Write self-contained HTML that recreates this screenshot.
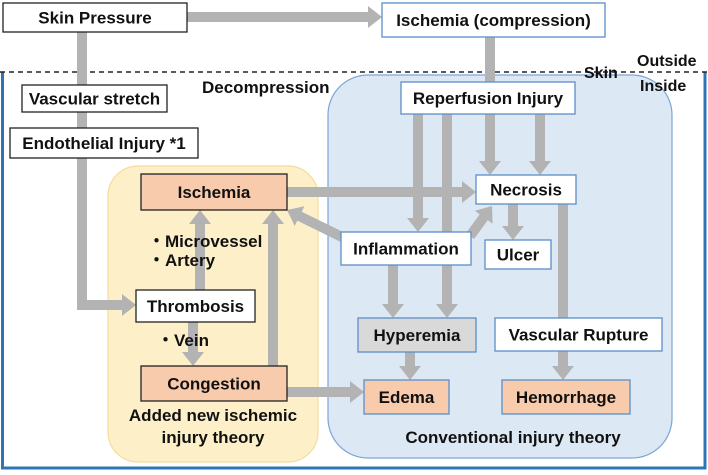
<!DOCTYPE html>
<html><head><meta charset="utf-8"><style>
body{margin:0;width:708px;height:475px;background:#fff;overflow:hidden;font-family:"Liberation Sans",Arial,sans-serif;}
svg{position:absolute;left:0;top:0}
.t{font-family:"Liberation Sans",Arial,sans-serif;font-weight:bold;font-size:17px;fill:#111}
</style></head><body>
<svg id="s" width="708" height="475" xmlns="http://www.w3.org/2000/svg">
<path d="M2.5 72 V468 H705 V72" fill="none" stroke="#2e75b6" stroke-width="3"/>
<line x1="0" y1="72" x2="708" y2="72" stroke="#222" stroke-width="1.5" stroke-dasharray="5,4"/>
<rect x="328" y="75" width="344" height="383" rx="40" fill="#dde8f5" stroke="#7ba7d6" stroke-width="1.2"/>
<rect x="108" y="166" width="210" height="296" rx="30" fill="#fdf0c9" stroke="#f6dc9c" stroke-width="1.2"/>
<g id="arrows" fill="#b3b3b3"></g>
<g id="boxes"></g>
<text class="t" x="202" y="93">Decompression</text>
<text class="t" x="584" y="78" style="font-size:16px">Skin</text>
<text class="t" x="637" y="66" style="font-size:16px">Outside</text>
<text class="t" x="640" y="91" style="font-size:16px">Inside</text>
<text class="t" x="148" y="247">・Microvessel</text>
<text class="t" x="148" y="266">・Artery</text>
<text class="t" x="157" y="346">・Vein</text>
<text class="t" x="213" y="421" text-anchor="middle">Added new ischemic</text>
<text class="t" x="213" y="443" text-anchor="middle">injury theory</text>
<text class="t" x="513" y="443" text-anchor="middle">Conventional injury theory</text>
</svg>
<script>
var A=document.getElementById('arrows'),B=document.getElementById('boxes'),NS='http://www.w3.org/2000/svg';
function el(p,t,a){var e=document.createElementNS(NS,t);for(var k in a)e.setAttribute(k,a[k]);p.appendChild(e);return e;}
function arr(x1,y1,x2,y2,head){var w=5,hw=11,hl=14;var dx=x2-x1,dy=y2-y1,L=Math.hypot(dx,dy),ux=dx/L,uy=dy/L,px=-uy,py=ux;
var bl=head?L-hl:L;var bx=x1+ux*bl,by=y1+uy*bl;var pts=[[x1+px*w,y1+py*w],[bx+px*w,by+py*w]];
if(head){pts.push([bx+px*hw,by+py*hw],[x2,y2],[bx-px*hw,by-py*hw]);}
pts.push([bx-px*w,by-py*w],[x1-px*w,y1-py*w]);el(A,'polygon',{points:pts.map(function(p){return p.join(',')}).join(' ')});}
arr(187,17,382,17,1);
arr(490,37,490,84,0);
arr(82,32,82,310,0);
arr(77,305,136,305,1);
arr(418,114,418,232,1);
arr(447,114,447,318,1);
arr(490,114,490,175,1);
arr(540,114,540,175,1);
arr(287,192,476,192,1);
arr(348,240,287,210,1);
arr(470,236,492,206,1);
arr(513,204,513,240,1);
arr(563,204,563,380,1);
arr(393,265,393,318,1);
arr(410,352,410,380,1);
arr(200,290,200,210,1);
arr(193,322,193,366,1);
arr(273,366,273,210,1);
arr(287,392,364,392,1);
function box(x,y,w,h,txt,fill,stroke){el(B,'rect',{x:x,y:y,width:w,height:h,fill:fill||'#fff',stroke:stroke||'#222','stroke-width':1.3});
var t=el(B,'text',{x:x+w/2,y:y+h/2+6,'text-anchor':'middle','class':'t'});t.textContent=txt;}
var O='#f8cbad',BL='#5b8fc9';
box(3,3,184,29,'Skin Pressure');
box(382,3,223,34,'Ischemia (compression)','#fff',BL);
box(22,85,145,27,'Vascular stretch');
box(10,128,188,30,'Endothelial  Injury *1');
box(401,82,174,32,'Reperfusion Injury','#fff',BL);
box(141,174,146,36,'Ischemia',O);
box(476,175,100,29,'Necrosis','#fff',BL);
box(341,232,130,33,'Inflammation','#fff',BL);
box(485,240,66,29,'Ulcer','#fff',BL);
box(136,290,119,32,'Thrombosis');
box(358,318,118,34,'Hyperemia','#d9d9d9',BL);
box(495,318,167,33,'Vascular Rupture','#fff',BL);
box(141,366,146,35,'Congestion',O);
box(364,380,85,34,'Edema',O,BL);
box(502,380,128,34,'Hemorrhage',O,BL);
</script>
</body></html>
